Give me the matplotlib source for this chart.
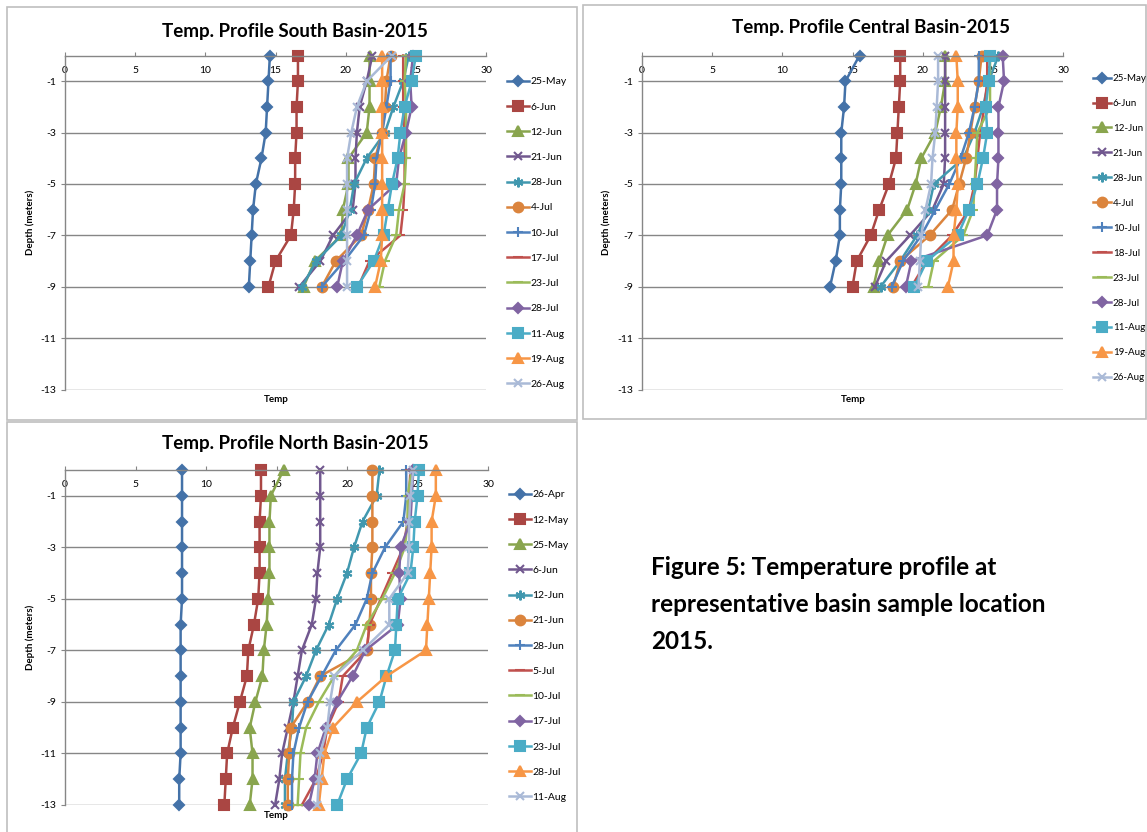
import matplotlib
matplotlib.use("Agg")
import matplotlib.pyplot as plt
from matplotlib.patches import Rectangle

plt.rcParams['font.family'] = ['Lato', 'DejaVu Sans']

W, H = 1147, 832

# ---- data -------------------------------------------------------------
south_depth = [0, -1, -2, -3, -4, -5, -6, -7, -8, -9]
south_dates = ['25-May', '6-Jun', '12-Jun', '21-Jun', '28-Jun', '4-Jul', '10-Jul',
               '17-Jul', '23-Jul', '28-Jul', '11-Aug', '19-Aug', '26-Aug']
south_temp = [
    [14.6, 14.5, 14.4, 14.3, 14.0, 13.6, 13.4, 13.3, 13.2, 13.1],
    [16.6, 16.6, 16.5, 16.5, 16.4, 16.4, 16.3, 16.1, 15.0, 14.5],
    [21.7, 21.7, 21.7, 21.5, 20.2, 20.2, 19.8, 19.7, 17.8, 17.0],
    [21.9, 21.5, 21.0, 20.8, 20.7, 20.7, 20.5, 19.1, 18.2, 16.7],
    [24.5, 24.1, 23.4, 22.8, 21.5, 20.6, 20.3, 19.7, 17.9, 16.9],
    [23.2, 22.9, 22.8, 22.6, 22.1, 22.0, 21.6, 21.1, 19.3, 18.3],
    [23.2, 23.2, 22.9, 22.6, 22.2, 22.1, 21.8, 21.3, 19.9, 18.3],
    [24.1, 24.1, 24.1, 24.2, 24.2, 24.2, 24.1, 23.9, 21.7, 20.9],
    [24.3, 24.2, 24.3, 24.3, 24.3, 24.2, 23.8, 23.6, 22.8, 22.4],
    [24.8, 24.6, 24.7, 24.3, 23.8, 23.6, 21.6, 20.8, 19.8, 19.4],
    [25.0, 24.7, 24.2, 23.9, 23.7, 23.3, 23.0, 22.7, 22.0, 20.8],
    [22.6, 22.6, 22.6, 22.6, 22.6, 22.6, 22.6, 22.6, 22.5, 22.1],
    [23.3, 21.5, 20.8, 20.4, 20.1, 20.1, 20.1, 20.1, 20.1, 20.1],
]

central_depth = [0, -1, -2, -3, -4, -5, -6, -7, -8, -9]
central_dates = ['25-May', '6-Jun', '12-Jun', '21-Jun', '28-Jun', '4-Jul', '10-Jul',
                 '18-Jul', '23-Jul', '28-Jul', '11-Aug', '19-Aug', '26-Aug']
central_temp = [
    [15.5, 14.5, 14.4, 14.2, 14.2, 14.2, 14.1, 14.1, 13.8, 13.4],
    [18.4, 18.4, 18.3, 18.2, 18.1, 17.6, 16.9, 16.3, 15.3, 15.0],
    [21.6, 21.6, 21.3, 20.9, 19.9, 19.5, 18.9, 17.5, 16.9, 16.5],
    [21.6, 21.6, 21.6, 21.6, 21.6, 21.5, 20.7, 19.1, 17.4, 16.6],
    [25.4, 24.7, 24.3, 23.7, 22.9, 20.8, 20.4, 19.6, 18.4, 17.0],
    [24.2, 24.0, 23.7, 23.4, 23.1, 22.6, 22.1, 20.5, 18.4, 17.9],
    [24.0, 24.0, 23.7, 23.3, 22.7, 21.9, 20.9, 19.9, 18.6, 17.8],
    [24.6, 24.6, 24.4, 24.1, 23.9, 23.7, 23.3, 22.1, 20.3, 19.2],
    [24.8, 24.8, 24.8, 23.9, 23.8, 23.7, 23.6, 22.9, 20.8, 20.4],
    [25.7, 25.8, 25.4, 25.4, 25.4, 25.3, 25.3, 24.6, 19.2, 18.8],
    [24.8, 24.7, 24.5, 24.6, 24.3, 23.9, 23.3, 22.5, 20.3, 19.4],
    [22.4, 22.5, 22.5, 22.4, 22.4, 22.5, 22.4, 22.2, 22.2, 21.8],
    [21.1, 21.1, 21.0, 20.9, 20.7, 20.6, 20.2, 19.9, 19.8, 19.7],
]

north_depth = [0, -1, -2, -3, -4, -5, -6, -7, -8, -9, -10, -11, -12, -13]
north_dates = ['26-Apr', '12-May', '25-May', '6-Jun', '12-Jun', '21-Jun', '28-Jun',
               '5-Jul', '10-Jul', '17-Jul', '23-Jul', '28-Jul', '11-Aug']
north_temp = [
    [8.3, 8.3, 8.3, 8.3, 8.3, 8.3, 8.2, 8.2, 8.2, 8.2, 8.2, 8.2, 8.1, 8.1],
    [13.9, 13.9, 13.8, 13.8, 13.8, 13.7, 13.4, 13.0, 12.9, 12.4, 11.9, 11.5, 11.4, 11.3],
    [15.5, 14.6, 14.5, 14.5, 14.5, 14.4, 14.3, 14.1, 14.0, 13.5, 13.1, 13.3, 13.3, 13.1],
    [18.1, 18.1, 18.1, 18.1, 17.9, 17.8, 17.5, 16.8, 16.5, 16.2, 15.8, 15.4, 15.2, 14.9],
    [22.3, 22.1, 21.1, 20.5, 20.0, 19.3, 18.7, 17.8, 17.1, 16.2, 16.1, 15.8, 15.6, 15.6],
    [21.8, 21.8, 21.8, 21.8, 21.7, 21.7, 21.6, 21.4, 18.1, 17.2, 16.0, 15.9, 15.8, 15.8],
    [24.2, 24.2, 24.0, 22.7, 21.8, 21.4, 20.6, 19.2, 18.2, 17.2, 16.6, 16.2, 16.1, 16.1],
    [24.5, 24.4, 24.3, 24.0, 23.2, 22.4, 21.6, 21.4, 19.7, 19.4, 18.6, 18.3, 17.8, 16.8],
    [24.6, 24.3, 24.3, 24.1, 23.4, 22.5, 21.4, 20.7, 19.1, 18.0, 17.1, 16.7, 16.6, 16.5],
    [24.7, 24.6, 24.5, 23.8, 23.7, 23.8, 23.6, 21.3, 20.4, 19.3, 18.5, 17.9, 17.7, 17.3],
    [25.1, 25.0, 24.8, 24.7, 24.5, 23.6, 23.5, 23.4, 22.8, 22.3, 21.4, 21.0, 20.0, 19.3],
    [26.3, 26.3, 26.0, 26.0, 25.9, 25.8, 25.7, 25.6, 22.8, 20.7, 19.0, 18.4, 18.2, 18.0],
    [24.7, 24.5, 24.4, 24.4, 24.3, 23.0, 23.0, 21.1, 19.1, 18.8, 18.6, 18.1, 18.0, 17.9],
]

# Excel-like series styles (colour, marker, marker size)
styles = [
    ('#4472A8', 'D', 5.5), ('#AA4643', 's', 7), ('#89A54E', '^', 7),
    ('#71588F', 'x', 6), ('#4198AF', (6, 2, 0), 7), ('#DB843D', 'o', 7),
    ('#4F81BD', '+', 7), ('#C0504D', '_', 7), ('#9BBB59', '_', 7),
    ('#8064A2', 'D', 5.5), ('#4BACC6', 's', 7), ('#F79646', '^', 7),
    ('#AABAD7', 'x', 6),
]

grid_c = '#868686'


def px_axes(fig, x0, x1, ytop, ybot):
    return fig.add_axes([x0 / W, 1 - ybot / H, (x1 - x0) / W, (ybot - ytop) / H])


def draw_panel(fig, ax, depth, temps, dates, title, title_xy, ylab_xy, xlab_xy, leg_xy,
               leg_fs=7.5, leg_ls=1.53, leg_hl=2.1):
    handles = []
    for t, (c, m, ms) in zip(temps, styles):
        ln, = ax.plot(t, depth, color=c, lw=1.8, marker=m, ms=ms,
                      mew=1.5, clip_on=False)
        handles.append(ln)
    ax.set_xlim(0, 30)
    ax.set_ylim(-13, 0)
    ax.set_xticks(range(0, 31, 5))
    ax.set_yticks(range(-13, 0, 2))
    ax.set_yticklabels([str(v) for v in range(-13, 0, 2)])
    ax.grid(axis='y', color=grid_c, lw=1)
    ax.set_axisbelow(True)
    for s in ['bottom', 'right']:
        ax.spines[s].set_visible(False)
    for s in ['top', 'left']:
        ax.spines[s].set_color(grid_c)
        ax.spines[s].set_linewidth(1)
    ax.tick_params(axis='x', top=True, labeltop=True, bottom=False, labelbottom=False,
                   direction='out', length=3, color=grid_c, labelsize=7.5, pad=-17)
    ax.tick_params(axis='y', direction='out', length=3, color=grid_c, labelsize=7.5, pad=3)
    ax.patch.set_visible(False)

    fig.text(title_xy[0] / W, 1 - title_xy[1] / H, title, fontsize=13.5,
             fontweight='bold', ha='center', va='center')
    fig.text(ylab_xy[0] / W, 1 - ylab_xy[1] / H, 'Depth (meters)', fontsize=7,
             fontweight='bold', rotation=90, ha='center', va='center')
    fig.text(xlab_xy[0] / W, 1 - xlab_xy[1] / H, 'Temp', fontsize=7,
             fontweight='bold', ha='center', va='center')
    fig.legend(handles, dates, loc='upper left',
               bbox_to_anchor=(leg_xy[0] / W, 1 - leg_xy[1] / H),
               frameon=False, fontsize=leg_fs, handlelength=leg_hl, handletextpad=0.15,
               labelspacing=leg_ls, borderpad=0, borderaxespad=0)


fig = plt.figure(figsize=(W / 100, H / 100), dpi=100)

# panel frames
for x0, y0, x1, y1 in [(7, 7, 577, 420), (583, 5, 1146, 419), (7, 422, 577, 840)]:
    fig.patches.append(Rectangle((x0 / W, 1 - y1 / H), (x1 - x0) / W, (y1 - y0) / H,
                                 transform=fig.transFigure, fill=False,
                                 ec='#BFBFBF', lw=1.2))

ax1 = px_axes(fig, 65, 486, 55.5, 389.5)
draw_panel(fig, ax1, south_depth, south_temp, south_dates,
           'Temp. Profile South Basin-2015', (295, 31), (30, 222), (276, 399), (507, 77))

ax2 = px_axes(fig, 642, 1063, 55.5, 389.5)
draw_panel(fig, ax2, central_depth, central_temp, central_dates,
           'Temp. Profile Central Basin-2015', (871, 27), (606, 222), (853, 399), (1093, 74),
           leg_fs=7, leg_ls=1.64, leg_hl=1.9)

ax3 = px_axes(fig, 65, 488, 470, 805)
draw_panel(fig, ax3, north_depth, north_temp, north_dates,
           'Temp. Profile North Basin-2015', (295, 443), (30, 637), (276, 816), (509, 490))

fig.text(651 / W, 1 - 556 / H,
         'Figure 5: Temperature profile at\nrepresentative basin sample location\n2015.',
         fontsize=17.5, fontweight='bold', ha='left', va='top', linespacing=1.74)

fig.savefig('out.png', dpi=100)
